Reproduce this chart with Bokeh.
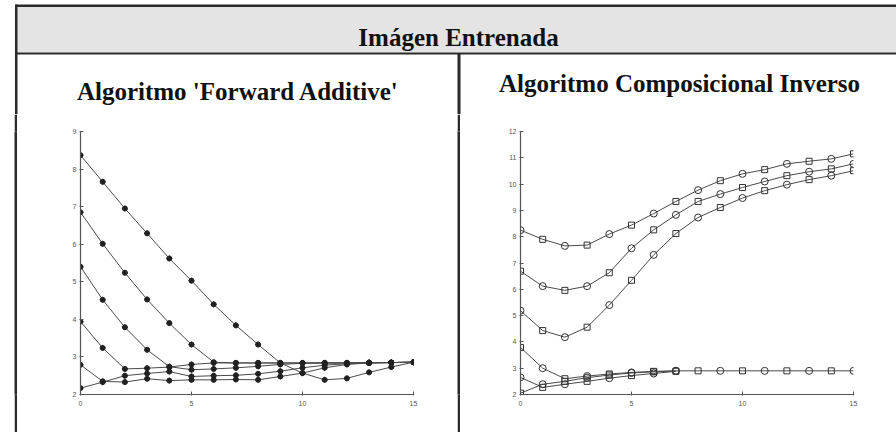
from bokeh.plotting import figure
from bokeh.layouts import column, row
from bokeh.models import FixedTicker, Range1d, Spacer
from bokeh.core.properties import value
from bokeh.embed import file_html
from bokeh.resources import INLINE

# ---------------- data ----------------
header_text = "Imágen Entrenada"
title_left = "Algoritmo 'Forward Additive'"
title_right = "Algoritmo Composicional Inverso"

iters = list(range(16))

fa_a = [8.37, 7.66, 6.95, 6.29, 5.62, 5.03, 4.40, 3.84, 3.33, 2.84, 2.57, 2.39, 2.43, 2.59, 2.73, 2.86]
fa_b = [6.85, 6.01, 5.24, 4.53, 3.90, 3.33, 2.86, 2.84, 2.84, 2.84, 2.84, 2.84, 2.84, 2.84, 2.85, 2.86]
fa_c = [5.40, 4.52, 3.79, 3.19, 2.74, 2.66, 2.68, 2.71, 2.75, 2.80, 2.83, 2.84, 2.84, 2.85, 2.85, 2.86]
fa_d = [3.94, 3.24, 2.68, 2.70, 2.73, 2.80, 2.84, 2.84, 2.84, 2.84, 2.84, 2.84, 2.84, 2.85, 2.85, 2.86]
fa_e = [2.79, 2.35, 2.33, 2.42, 2.37, 2.39, 2.39, 2.40, 2.39, 2.48, 2.57, 2.71, 2.80, 2.84, 2.85, 2.86]
fa_f = [2.17, 2.33, 2.50, 2.56, 2.61, 2.48, 2.50, 2.51, 2.55, 2.62, 2.71, 2.78, 2.82, 2.84, 2.85, 2.86]
fa_series = [fa_a, fa_b, fa_c, fa_d, fa_e, fa_f]

ci_a = [8.25, 7.90, 7.65, 7.68, 8.10, 8.44, 8.88, 9.34, 9.77, 10.13, 10.39, 10.55, 10.77, 10.87, 10.96, 11.15]
ci_b = [6.69, 6.12, 5.96, 6.12, 6.63, 7.56, 8.26, 8.83, 9.34, 9.62, 9.87, 10.10, 10.32, 10.47, 10.58, 10.77]
ci_c = [5.19, 4.43, 4.18, 4.56, 5.40, 6.34, 7.31, 8.12, 8.73, 9.11, 9.47, 9.75, 9.98, 10.17, 10.32, 10.51]
ci_d = [3.79, 3.00, 2.60, 2.70, 2.78, 2.84, 2.88, 2.90, 2.90, 2.90, 2.90, 2.90, 2.90, 2.90, 2.90, 2.90]
ci_e = [2.65, 2.27, 2.39, 2.50, 2.62, 2.72, 2.80, 2.88]
ci_f = [2.05, 2.39, 2.50, 2.64, 2.74, 2.82, 2.86, 2.90]
ci_series = [ci_a, ci_b, ci_c, ci_d, ci_e, ci_f]

x_ticks = [0, 5, 10, 15]
fa_y_ticks = [2, 3, 4, 5, 6, 7, 8, 9]
ci_y_ticks = [2, 3, 4, 5, 6, 7, 8, 9, 10, 11, 12]

# ---------------- styling ----------------
SERIF = value("Liberation Serif")
BORDER = "#2a2a2a"
BAND = "#e4e4e4"
LINE = "#4a4a4a"


def blank(w, h, xr, yr, bg="white", bfill="white"):
    f = figure(width=w, height=h, x_range=Range1d(*xr), y_range=Range1d(*yr),
               toolbar_location=None, output_backend="svg",
               x_axis_location=None, y_axis_location=None,
               min_border=0, min_border_left=0, min_border_right=0,
               min_border_top=0, min_border_bottom=0)
    f.grid.visible = False
    f.outline_line_color = None
    f.background_fill_color = bg
    f.border_fill_color = bfill
    return f


def add_text(fig, x, y, txt):
    fig.text(x=[x], y=[y], text=[txt], text_font=SERIF, text_font_style="bold",
             text_font_size="25px", text_align="center", text_baseline="alphabetic",
             text_color="#111111")


# top band: header + panel titles (page y 0..114; data y = 114 - page y)
top = blank(896, 114, (0, 896), (0, 114))
top.quad(left=16, right=896, bottom=62, top=108, fill_color=BAND, line_color=None)
top.quad(left=15, right=896, bottom=107.5, top=110, fill_color=BORDER, line_color=None)
top.quad(left=15, right=896, bottom=60, top=62, fill_color=BORDER, line_color=None)
top.quad(left=14.5, right=17, bottom=0, top=110, fill_color=BORDER, line_color=None)
top.quad(left=457, right=460, bottom=0, top=61, fill_color=BORDER, line_color=None)
add_text(top, 458, 76.7, header_text)
add_text(top, 237.5, 23, title_left)
add_text(top, 679, 31, title_right)

# left border bar (page x 14..17)
lgap = Spacer(width=14, height=318)
lbar = blank(3, 318, (0, 1), (0, 1), bg=BORDER, bfill=BORDER)

# divider (page x 457..460)
dbar = blank(3, 318, (0, 1), (0, 1), bg=BORDER, bfill=BORDER)


def chart(w, h, yr, yticks, mb_left, mb_right):
    f = figure(width=w, height=h, x_range=Range1d(0, 15), y_range=Range1d(*yr),
               toolbar_location=None, output_backend="svg",
               min_border_left=mb_left, min_border_right=mb_right,
               min_border_top=17, min_border_bottom=38)
    f.grid.visible = False
    f.outline_line_color = None
    f.background_fill_color = "white"
    f.border_fill_color = "white"
    f.xaxis.ticker = FixedTicker(ticks=x_ticks)
    f.yaxis.ticker = FixedTicker(ticks=yticks)
    for ax in (f.xaxis[0], f.yaxis[0]):
        ax.axis_line_color = "#555555"
        ax.axis_line_width = 1.2
        ax.major_tick_line_color = "#555555"
        ax.major_tick_in = 3
        ax.major_tick_out = 1
        ax.minor_tick_line_color = None
        ax.major_label_text_font = "Liberation Sans"
        ax.major_label_text_font_size = "7px"
        ax.major_label_text_color = "#555555"
    f.xaxis.major_label_standoff = 5
    f.yaxis.major_label_standoff = 3
    return f


# charts (page y 114..432)
pl = chart(440, 318, (2, 9), fa_y_ticks, 63, 44)
for s in fa_series:
    xs = iters[:len(s)]
    pl.line(xs, s, line_color=LINE, line_width=1)
    pl.scatter(xs, s, marker="circle", size=5, fill_color="#222222", line_color="#222222")
    pl.scatter(xs, s, marker="cross", size=6, line_color="#222222", line_width=0.8)

pr = chart(436, 318, (2, 12), ci_y_ticks, 60, 43)
for k, s in enumerate(ci_series):
    xs = iters[:len(s)]
    pr.line(xs, s, line_color=LINE, line_width=1)
    xc = [x for x in xs if (x + k) % 2 == 0]
    yc = [s[x] for x in xs if (x + k) % 2 == 0]
    xq = [x for x in xs if (x + k) % 2 == 1]
    yq = [s[x] for x in xs if (x + k) % 2 == 1]
    pr.scatter(xc, yc, marker="circle", size=7, fill_color=None, line_color="#333333", line_width=1)
    pr.scatter(xq, yq, marker="square", size=6, fill_color=None, line_color="#333333", line_width=1)

layout = column(top, row(lgap, lbar, pl, dbar, pr))

open("out.html", "w").write(file_html(layout, INLINE))
